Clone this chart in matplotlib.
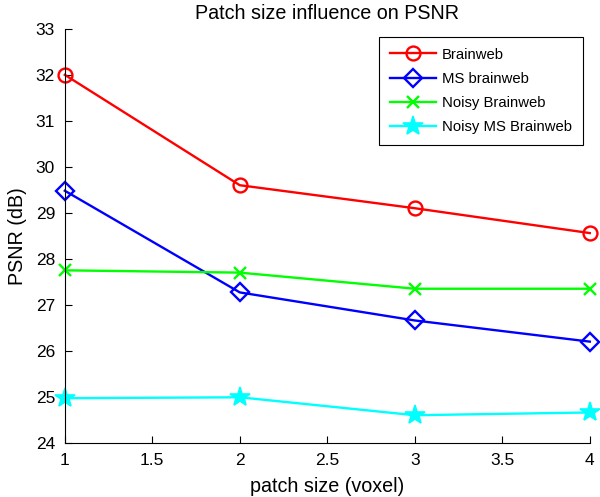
import matplotlib.pyplot as plt

# patch sizes and PSNR values
patch_size = [1, 2, 3, 4]
brainweb = [32.0, 29.6, 29.1, 28.56]
ms_brainweb = [29.48, 27.27, 26.66, 26.2]
noisy_brainweb = [27.75, 27.7, 27.35, 27.35]
noisy_ms_brainweb = [24.97, 24.99, 24.6, 24.66]

plt.rcParams['font.family'] = ['Liberation Sans', 'DejaVu Sans']

fig = plt.figure(figsize=(6, 4.97), dpi=100)
ax = fig.add_axes([0.108, 0.109, 0.875, 0.833])

ax.plot(patch_size, brainweb, color='red', lw=1.7, marker='o', ms=10,
        mfc='none', mew=1.7, label='Brainweb', clip_on=False)
ax.plot(patch_size, ms_brainweb, color='blue', lw=1.7, marker='D', ms=9,
        mfc='none', mew=1.7, label='MS brainweb', clip_on=False)
ax.plot(patch_size, noisy_brainweb, color='#00ff00', lw=1.7, marker='x', ms=8,
        mew=1.7, label='Noisy Brainweb', clip_on=False)
ax.plot(patch_size, noisy_ms_brainweb, color='cyan', lw=1.7, marker='*', ms=15,
        mew=1.2, label='Noisy MS Brainweb', clip_on=False)

ax.set_xlim(1, 4)
ax.set_ylim(24, 33)
ax.set_xticks([1, 1.5, 2, 2.5, 3, 3.5, 4])
ax.set_xticklabels(['1', '1.5', '2', '2.5', '3', '3.5', '4'])
ax.set_yticks(range(24, 34))
ax.tick_params(direction='in', labelsize=12.5, length=5, pad=7)
ax.spines['top'].set_visible(False)
ax.spines['right'].set_visible(False)

ax.set_title('Patch size influence on PSNR', fontsize=14.2, pad=7)
ax.set_xlabel('patch size (voxel)', fontsize=14.2, labelpad=7)
ax.set_ylabel('PSNR (dB)', fontsize=14.2, labelpad=6)

leg = ax.legend(loc='upper right', fontsize=10.7, handlelength=3.1,
                handletextpad=0.4, labelspacing=0.68, borderpad=0.75,
                fancybox=False, edgecolor='black', framealpha=1,
                borderaxespad=0.1, bbox_to_anchor=(0.99, 0.985))
leg.get_frame().set_linewidth(0.8)

plt.savefig('out.png')
plt.close()
